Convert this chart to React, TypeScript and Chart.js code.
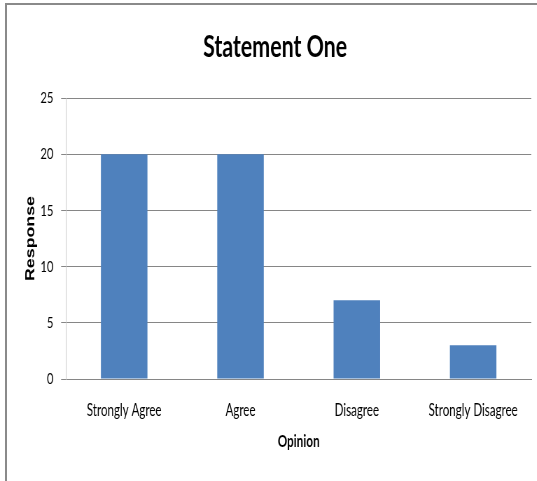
import React, { useEffect, useRef } from "react";
import { Chart, registerables } from "chart.js";

Chart.register(...registerables);

const categories = ["Strongly Agree", "Agree", "Disagree", "Strongly Disagree"];
const responses = [20, 20, 7, 3];
const yTicks = [0, 5, 10, 15, 20, 25];

// The chart is laid out on a wider canvas and squeezed horizontally on the page.
const SQUEEZE = 0.7;
const PAGE_W = 537;
const PAGE_H = 481;
const CANVAS_W = Math.round(PAGE_W / SQUEEZE);

const FACE = "Lato, 'Open Sans', sans-serif";

export default function App() {
  const canvasRef = useRef<HTMLCanvasElement | null>(null);

  useEffect(() => {
    const canvas = canvasRef.current;
    if (!canvas) return;
    const chart = new Chart(canvas, {
      type: "bar",
      data: {
        labels: categories,
        datasets: [
          {
            label: "Response",
            data: responses,
            backgroundColor: "#4F81BD",
            borderWidth: 0,
            categoryPercentage: 1,
            barPercentage: 0.4,
          },
        ],
      },
      options: {
        responsive: false,
        animation: false,
        layout: { padding: { left: 27, right: 8, top: 0, bottom: 0 } },
        plugins: {
          legend: { display: false },
          tooltip: { enabled: false },
          title: {
            display: true,
            text: "Statement One",
            color: "#000",
            font: { family: FACE, size: 30.5, weight: "bold", lineHeight: 1.2 },
            padding: { top: 28.7, bottom: 32.7 },
          },
        },
        scales: {
          x: {
            afterFit: (axis: any) => {
              axis.height = 102;
            },
            grid: { display: false, drawTicks: false },
            border: { color: "#868686", width: 1 },
            ticks: {
              color: "#000",
              autoSkip: false,
              font: { family: FACE, size: 16.5 },
              padding: 22,
              maxRotation: 0,
            },
            title: {
              display: true,
              text: "Opinion",
              color: "#000",
              font: { family: FACE, size: 16.8, weight: "bold", lineHeight: 1.2 },
              padding: { top: 0, bottom: 29 },
            },
          },
          y: {
            min: 0,
            max: 25,
            afterBuildTicks: (axis: any) => {
              axis.ticks = yTicks.map((v) => ({ value: v }));
            },
            afterFit: (axis: any) => {
              axis.width = 67.3;
            },
            grid: {
              color: "#868686",
              tickLength: 7,
              drawTicks: true,
            },
            border: { color: "#c8c8c8", width: 1 },
            ticks: {
              color: "#000",
              font: { family: FACE, size: 16 },
              padding: 11,
            },
            title: {
              display: true,
              text: "Response",
              color: "#000",
              font: { family: "'Liberation Sans', Arial, sans-serif", size: 17.8, weight: "bold", lineHeight: 1.2 },
              padding: { top: 6.6, bottom: 0 },
            },
          },
        },
      },
    });
    return () => chart.destroy();
  }, []);

  return (
    <div
      style={{
        position: "fixed",
        left: 0,
        top: 0,
        width: PAGE_W,
        height: PAGE_H,
        overflow: "hidden",
        background: "#fff",
      }}
    >
      <canvas
        ref={canvasRef}
        width={CANVAS_W}
        height={PAGE_H}
        style={{
          position: "absolute",
          left: 0,
          top: 0,
          display: "block",
          transform: `scaleX(${SQUEEZE})`,
          transformOrigin: "0 0",
        }}
      />
      <div
        style={{
          position: "absolute",
          left: 5,
          top: 3,
          width: 532,
          height: 476,
          borderTop: "2px solid #8a8a8a",
          borderLeft: "2px solid #8a8a8a",
          borderBottom: "1px solid #e2e2e2",
          pointerEvents: "none",
        }}
      />
    </div>
  );
}
